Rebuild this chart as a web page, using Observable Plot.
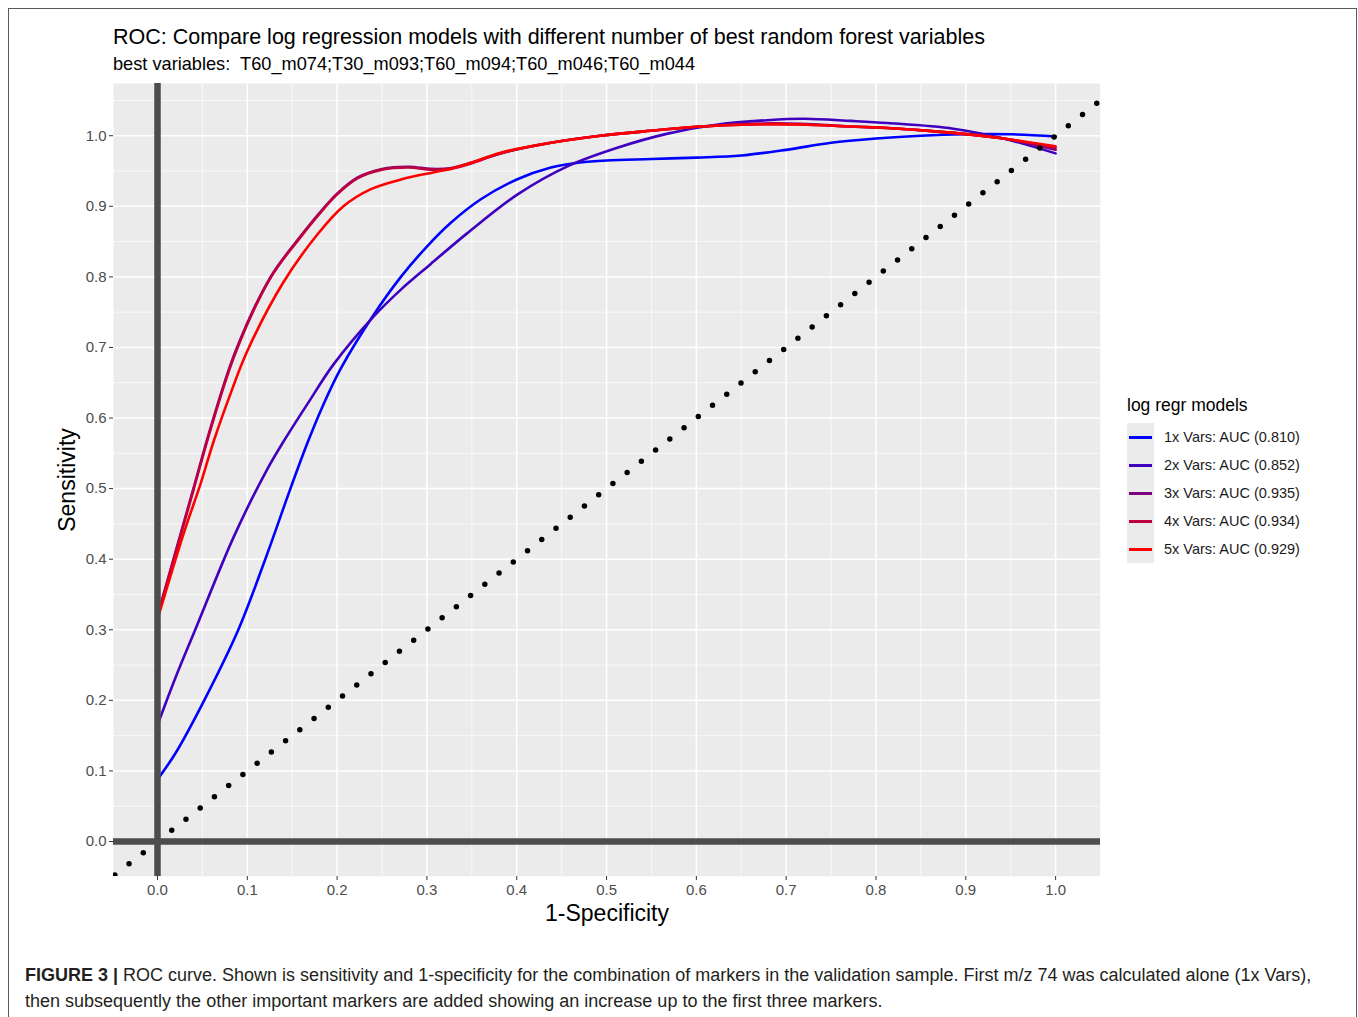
<!DOCTYPE html>
<html>
<head>
<meta charset="utf-8">
<script src="https://cdn.jsdelivr.net/npm/d3@7"></script>
<script src="https://cdn.jsdelivr.net/npm/@observablehq/plot@0.6"></script>
<style>
  html, body { margin: 0; padding: 0; background: #fff; }
  body { font-family: "Liberation Sans", Arial, Helvetica, sans-serif; }
  #fig { position: relative; width: 1358px; height: 1017px; overflow: hidden; background: #fff; }
  #border { position: absolute; left: 8px; top: 8px; width: 1349px; height: 1040px; border: 1px solid #5a5a5a; box-sizing: border-box; }
  .txt { position: absolute; white-space: pre; }
  #title { left: 113px; top: 25px; font-size: 21.5px; line-height: 24px; color: #000; }
  #subtitle { left: 113px; top: 54px; font-size: 18.2px; line-height: 20px; color: #000; }
  #chart { position: absolute; left: 40px; top: 80px; }
  #legend { position: absolute; left: 1127px; top: 393px; }
  #legtitle { font-size: 17.5px; line-height: 24px; color: #000; margin-bottom: 6px; }
  .row { position: relative; height: 28px; }
  .key { position: absolute; left: 0; top: 0; width: 27px; height: 28px; background: #ebebeb; }
  .key i { position: absolute; left: 2px; top: 12.5px; width: 23px; height: 3px; }
  .lab { position: absolute; left: 37px; top: 0; line-height: 28px; font-size: 14.5px; color: #1a1a1a; white-space: nowrap; }
  #caption { left: 25px; top: 962px; font-size: 18px; line-height: 26px; color: #231f20; }
</style>
</head>
<body>
<div id="fig">
  <div id="border"></div>
  <div id="title" class="txt"></div>
  <div id="subtitle" class="txt"></div>
  <div id="chart"></div>
  <div id="legend"></div>
  <div id="caption" class="txt"></div>
</div>
<script>
// ---------- data ----------
const titleText = "ROC: Compare log regression models with different number of best random forest variables";
const subtitleText = "best variables:  T60_m074;T30_m093;T60_m094;T60_m046;T60_m044";
const legendTitle = "log regr models";
const models = ["1x Vars: AUC (0.810)", "2x Vars: AUC (0.852)", "3x Vars: AUC (0.935)", "4x Vars: AUC (0.934)", "5x Vars: AUC (0.929)"];
const modelColors = ["#0000FF", "#3F00BF", "#7F007F", "#BF003F", "#FF0000"];

const fpr1 = [0, 0.02, 0.05, 0.09, 0.12, 0.148, 0.167, 0.185, 0.204, 0.24, 0.271, 0.3, 0.326, 0.36, 0.4, 0.438, 0.47, 0.5, 0.55, 0.6, 0.65, 0.7, 0.75, 0.8, 0.85, 0.9, 0.95, 1.0];
const tpr1 = [0.088, 0.125, 0.195, 0.3, 0.4, 0.5, 0.565, 0.62, 0.67, 0.745, 0.8, 0.843, 0.876, 0.91, 0.938, 0.955, 0.962, 0.965, 0.967, 0.969, 0.972, 0.98, 0.99, 0.996, 1.0, 1.002, 1.002, 0.999];

const fpr2 = [0, 0.02, 0.042, 0.085, 0.122, 0.14, 0.167, 0.196, 0.24, 0.271, 0.304, 0.345, 0.401, 0.457, 0.512, 0.568, 0.624, 0.679, 0.72, 0.772, 0.813, 0.886, 0.942, 1.0];
const tpr2 = [0.165, 0.232, 0.3, 0.432, 0.527, 0.566, 0.62, 0.676, 0.743, 0.782, 0.818, 0.862, 0.917, 0.957, 0.983, 1.003, 1.016, 1.022, 1.024, 1.021, 1.018, 1.01, 0.996, 0.975];

const fpr3 = [0, 0.02, 0.04, 0.06, 0.087, 0.126, 0.159, 0.18, 0.2, 0.223, 0.25, 0.28, 0.305, 0.326, 0.35, 0.382, 0.438, 0.493, 0.549, 0.605, 0.66, 0.716, 0.772, 0.813, 0.886, 0.942, 1.0];
const tpr3 = [0.32, 0.41, 0.5, 0.59, 0.695, 0.8, 0.857, 0.89, 0.918, 0.941, 0.953, 0.956, 0.953, 0.954, 0.962, 0.975, 0.99, 1.0, 1.007, 1.013, 1.017, 1.017, 1.013, 1.011, 1.004, 0.996, 0.98];

const fpr4 = [0, 0.02, 0.04, 0.06, 0.087, 0.126, 0.159, 0.18, 0.2, 0.223, 0.25, 0.28, 0.305, 0.326, 0.35, 0.382, 0.438, 0.493, 0.549, 0.605, 0.66, 0.716, 0.772, 0.813, 0.886, 0.942, 1.0];
const tpr4 = [0.318, 0.408, 0.498, 0.588, 0.693, 0.799, 0.856, 0.889, 0.917, 0.94, 0.952, 0.955, 0.952, 0.953, 0.961, 0.975, 0.99, 1.0, 1.007, 1.013, 1.016, 1.016, 1.013, 1.011, 1.004, 0.996, 0.983];

const fpr5 = [0, 0.029, 0.048, 0.062, 0.08, 0.1, 0.14, 0.178, 0.207, 0.237, 0.271, 0.307, 0.326, 0.35, 0.382, 0.438, 0.493, 0.549, 0.605, 0.66, 0.716, 0.772, 0.813, 0.886, 0.942, 1.0];
const tpr5 = [0.315, 0.436, 0.507, 0.565, 0.63, 0.695, 0.792, 0.86, 0.9, 0.924, 0.938, 0.948, 0.953, 0.962, 0.976, 0.99, 1.0, 1.007, 1.013, 1.016, 1.016, 1.013, 1.011, 1.004, 0.996, 0.985];

const majorTicks = [0, 0.1, 0.2, 0.3, 0.4, 0.5, 0.6, 0.7, 0.8, 0.9, 1.0];
const minorX = [0.05, 0.15, 0.25, 0.35, 0.45, 0.55, 0.65, 0.75, 0.85, 0.95, 1.05];
const minorY = [-0.05, 0.05, 0.15, 0.25, 0.35, 0.45, 0.55, 0.65, 0.75, 0.85, 0.95, 1.05];
const diagUp = [0, 1.1];
const diagDown = [0, -0.1];
const xLabel = "1-Specificity";
const yLabel = "Sensitivity";
const captionBold = "FIGURE 3 |";
const captionLine1 = " ROC curve. Shown is sensitivity and 1-specificity for the combination of markers in the validation sample. First m/z 74 was calculated alone (1x Vars),";
const captionLine2 = "then subsequently the other important markers are added showing an increase up to the first three markers.";

// ---------- build table ----------
const series = [[fpr1, tpr1], [fpr2, tpr2], [fpr3, tpr3], [fpr4, tpr4], [fpr5, tpr5]];
const rows = [];
series.forEach(([xs, ys], i) => xs.forEach((x, j) => rows.push({model: models[i], fpr: x, tpr: ys[j]})));

const fmt = d3.format(".1f");

const chart = Plot.plot({
  width: 1065,
  height: 860,
  marginLeft: 73,
  marginRight: 5,
  marginTop: 3,
  marginBottom: 64,
  style: {fontFamily: "'Liberation Sans', Arial, sans-serif", fontSize: "15px", background: "transparent", overflow: "visible"},
  x: {domain: [-0.049, 1.05], label: null},
  y: {domain: [-0.0496, 1.074], label: null},
  color: {domain: models, range: modelColors},
  marks: [
    Plot.frame({fill: "#EBEBEB", stroke: null}),
    Plot.gridX(minorX, {stroke: "#ffffff", strokeOpacity: 1, strokeWidth: 0.7}),
    Plot.gridY(minorY, {stroke: "#ffffff", strokeOpacity: 1, strokeWidth: 0.7}),
    Plot.gridX(majorTicks, {stroke: "#ffffff", strokeOpacity: 1, strokeWidth: 1.5}),
    Plot.gridY(majorTicks, {stroke: "#ffffff", strokeOpacity: 1, strokeWidth: 1.5}),
    Plot.axisX(majorTicks, {tickFormat: fmt, tickSize: 4, tickPadding: 4, fontSize: 15, fill: "#4D4D4D", stroke: "#333333", label: null}),
    Plot.axisY(majorTicks, {tickFormat: fmt, tickSize: 4, tickPadding: 3, fontSize: 15, fill: "#4D4D4D", stroke: "#333333", label: null}),
    Plot.line(rows, {x: "fpr", y: "tpr", z: "model", stroke: "model", strokeWidth: 2.6, curve: "catmull-rom", clip: true}),
    Plot.line(diagUp, {x: d => d, y: d => d, stroke: "#000", strokeWidth: 5.5, strokeDasharray: "0 18.1", strokeLinecap: "round", clip: true}),
    Plot.line(diagDown, {x: d => d, y: d => d, stroke: "#000", strokeWidth: 5.5, strokeDasharray: "0 18.1", strokeLinecap: "round", clip: true}),
    Plot.ruleX([0], {stroke: "#4D4D4D", strokeWidth: 6.5}),
    Plot.ruleY([0], {stroke: "#4D4D4D", strokeWidth: 6.5}),
    Plot.text([xLabel], {text: d => d, frameAnchor: "bottom", textAnchor: "middle", lineAnchor: "middle", dy: 37, fontSize: 23, fill: "#000"}),
    Plot.text([yLabel], {text: d => d, frameAnchor: "left", textAnchor: "middle", lineAnchor: "middle", dx: -46, rotate: -90, fontSize: 23, fill: "#000"})
  ]
});
document.getElementById("chart").appendChild(chart);

// ---------- texts ----------
document.getElementById("title").textContent = titleText;
document.getElementById("subtitle").textContent = subtitleText;

const legend = document.getElementById("legend");
const lt = document.createElement("div");
lt.id = "legtitle";
lt.textContent = legendTitle;
legend.appendChild(lt);
models.forEach((m, i) => {
  const row = document.createElement("div");
  row.className = "row";
  const key = document.createElement("div");
  key.className = "key";
  const ln = document.createElement("i");
  ln.style.background = modelColors[i];
  key.appendChild(ln);
  const lab = document.createElement("div");
  lab.className = "lab";
  lab.textContent = m;
  row.appendChild(key);
  row.appendChild(lab);
  legend.appendChild(row);
});

const cap = document.getElementById("caption");
const b = document.createElement("b");
b.textContent = captionBold;
cap.appendChild(b);
cap.appendChild(document.createTextNode(captionLine1));
cap.appendChild(document.createElement("br"));
cap.appendChild(document.createTextNode(captionLine2));
</script>
</body>
</html>
